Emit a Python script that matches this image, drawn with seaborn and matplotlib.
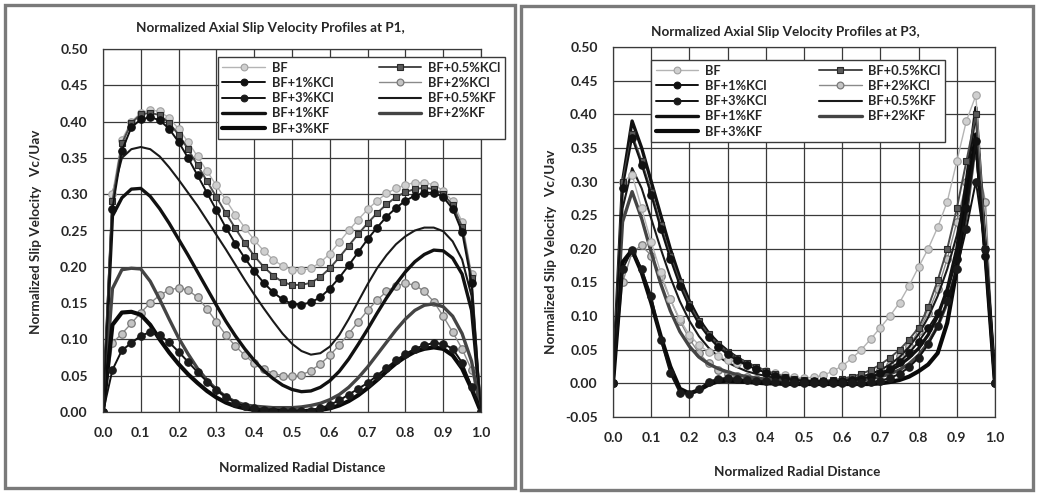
import matplotlib
matplotlib.use("Agg")
import matplotlib.pyplot as plt
import seaborn as sns
import pandas as pd
from matplotlib.patches import Rectangle

# ---------------- data ----------------
x = [0.0, 0.025, 0.05, 0.075, 0.1, 0.125, 0.15, 0.175, 0.2, 0.225,
     0.25, 0.275, 0.3, 0.325, 0.35, 0.375, 0.4, 0.425, 0.45, 0.475,
     0.5, 0.525, 0.55, 0.575, 0.6, 0.625, 0.65, 0.675, 0.7, 0.725,
     0.75, 0.775, 0.8, 0.825, 0.85, 0.875, 0.9, 0.925, 0.95, 0.975, 1.0]

series_names = ["BF", "BF+0.5%KCl", "BF+1%KCl", "BF+2%KCl", "BF+3%KCl",
                "BF+0.5%KF", "BF+1%KF", "BF+2%KF", "BF+3%KF"]

# ---- P1 ----
p1_bf = [0, 0.30, 0.375, 0.40, 0.412, 0.416, 0.414, 0.405, 0.39, 0.372,
         0.352, 0.332, 0.312, 0.292, 0.272, 0.254, 0.237, 0.222, 0.21, 0.201,
         0.196, 0.195, 0.198, 0.206, 0.218, 0.234, 0.25, 0.265, 0.279, 0.291,
         0.301, 0.308, 0.313, 0.316, 0.316, 0.313, 0.305, 0.29, 0.262, 0.19, 0]
p1_kcl05 = [0, 0.29, 0.37, 0.398, 0.41, 0.412, 0.409, 0.398, 0.382, 0.362,
            0.34, 0.318, 0.296, 0.274, 0.253, 0.233, 0.215, 0.2, 0.188, 0.179,
            0.175, 0.175, 0.178, 0.186, 0.198, 0.213, 0.229, 0.245, 0.26, 0.274,
            0.286, 0.296, 0.303, 0.307, 0.309, 0.307, 0.3, 0.285, 0.255, 0.185, 0]
p1_kcl1 = [0, 0.28, 0.36, 0.392, 0.403, 0.406, 0.402, 0.39, 0.372, 0.35,
           0.326, 0.302, 0.278, 0.254, 0.232, 0.212, 0.194, 0.178, 0.165, 0.155,
           0.149, 0.148, 0.151, 0.158, 0.17, 0.185, 0.202, 0.22, 0.238, 0.254,
           0.269, 0.281, 0.291, 0.298, 0.302, 0.302, 0.296, 0.28, 0.248, 0.178, 0]
p1_kcl2 = [0, 0.095, 0.108, 0.122, 0.137, 0.15, 0.161, 0.168, 0.171, 0.168,
           0.158, 0.142, 0.124, 0.106, 0.091, 0.078, 0.067, 0.059, 0.053, 0.05,
           0.049, 0.051, 0.057, 0.066, 0.078, 0.092, 0.108, 0.124, 0.14, 0.154,
           0.166, 0.174, 0.177, 0.175, 0.166, 0.152, 0.132, 0.11, 0.087, 0.058, 0]
p1_kcl3 = [0, 0.058, 0.085, 0.095, 0.105, 0.11, 0.106, 0.096, 0.083, 0.069,
           0.055, 0.042, 0.03, 0.021, 0.013, 0.008, 0.005, 0.003, 0.002, 0.001,
           0.001, 0.001, 0.002, 0.005, 0.01, 0.016, 0.024, 0.032, 0.04, 0.05,
           0.061, 0.071, 0.08, 0.087, 0.092, 0.095, 0.094, 0.087, 0.068, 0.035, 0]
p1_kf05 = [0, 0.30, 0.35, 0.362, 0.365, 0.362, 0.352, 0.337, 0.32, 0.302,
           0.284, 0.264, 0.244, 0.224, 0.203, 0.182, 0.162, 0.143, 0.125, 0.108,
           0.094, 0.084, 0.079, 0.081, 0.09, 0.106, 0.128, 0.152, 0.176, 0.198,
           0.216, 0.231, 0.242, 0.25, 0.254, 0.254, 0.249, 0.235, 0.21, 0.16, 0]
p1_kf1 = [0, 0.27, 0.295, 0.307, 0.308, 0.297, 0.28, 0.26, 0.238, 0.216,
          0.193, 0.17, 0.147, 0.125, 0.105, 0.087, 0.071, 0.057, 0.046, 0.037,
          0.031, 0.028, 0.029, 0.034, 0.043, 0.056, 0.073, 0.093, 0.114, 0.136,
          0.157, 0.176, 0.193, 0.207, 0.217, 0.223, 0.222, 0.212, 0.19, 0.14, 0]
p1_kf2 = [0, 0.17, 0.196, 0.198, 0.197, 0.18, 0.155, 0.128, 0.102, 0.08,
          0.06, 0.044, 0.031, 0.021, 0.014, 0.01, 0.008, 0.007, 0.006, 0.006,
          0.006, 0.007, 0.009, 0.012, 0.017, 0.024, 0.034, 0.047, 0.062, 0.079,
          0.096, 0.113, 0.128, 0.14, 0.147, 0.149, 0.145, 0.132, 0.108, 0.07, 0]
p1_kf3 = [0, 0.12, 0.137, 0.138, 0.134, 0.12, 0.1, 0.082, 0.066, 0.052,
          0.04, 0.029, 0.02, 0.013, 0.008, 0.005, 0.003, 0.002, 0.002, 0.001,
          0.001, 0.001, 0.002, 0.003, 0.005, 0.009, 0.015, 0.023, 0.033, 0.044,
          0.056, 0.067, 0.076, 0.083, 0.087, 0.089, 0.087, 0.078, 0.06, 0.032, 0]

# ---- P3 ----
p3_bf = [0, 0.30, 0.31, 0.26, 0.21, 0.165, 0.125, 0.095, 0.072, 0.057,
         0.047, 0.04, 0.035, 0.031, 0.027, 0.023, 0.019, 0.015, 0.012, 0.009,
         0.008, 0.009, 0.012, 0.018, 0.026, 0.037, 0.05, 0.066, 0.083, 0.1,
         0.12, 0.145, 0.173, 0.2, 0.232, 0.27, 0.33, 0.39, 0.428, 0.2, 0]
p3_kcl05 = [0, 0.30, 0.37, 0.33, 0.285, 0.235, 0.19, 0.15, 0.118, 0.092,
            0.073, 0.058, 0.047, 0.038, 0.031, 0.025, 0.019, 0.014, 0.01, 0.007,
            0.005, 0.004, 0.004, 0.005, 0.007, 0.01, 0.014, 0.02, 0.028, 0.038,
            0.05, 0.065, 0.083, 0.113, 0.153, 0.2, 0.26, 0.33, 0.40, 0.2, 0]
p3_kcl1 = [0, 0.29, 0.365, 0.325, 0.28, 0.23, 0.185, 0.145, 0.113, 0.088,
           0.069, 0.054, 0.043, 0.034, 0.027, 0.021, 0.016, 0.011, 0.008, 0.005,
           0.004, 0.003, 0.003, 0.003, 0.004, 0.005, 0.007, 0.01, 0.015, 0.022,
           0.032, 0.045, 0.062, 0.082, 0.104, 0.135, 0.185, 0.26, 0.36, 0.19, 0]
p3_kcl2 = [0, 0.15, 0.195, 0.205, 0.19, 0.16, 0.125, 0.093, 0.066, 0.045,
           0.03, 0.02, 0.014, 0.011, 0.009, 0.007, 0.006, 0.005, 0.004, 0.003,
           0.003, 0.003, 0.003, 0.004, 0.005, 0.007, 0.01, 0.014, 0.02, 0.028,
           0.04, 0.056, 0.078, 0.105, 0.14, 0.185, 0.24, 0.3, 0.34, 0.27, 0]
p3_kcl3 = [0, 0.17, 0.198, 0.17, 0.13, 0.065, 0.015, -0.014, -0.016, -0.008,
           0.002, 0.007, 0.008, 0.007, 0.005, 0.004, 0.003, 0.002, 0.001, 0.0,
           0.0, 0.0, 0.0, 0.0, 0.0, 0.0, 0.001, 0.002, 0.004, 0.008,
           0.014, 0.024, 0.038, 0.058, 0.085, 0.122, 0.17, 0.23, 0.30, 0.2, 0]
p3_kf05 = [0, 0.26, 0.32, 0.29, 0.245, 0.2, 0.158, 0.122, 0.093, 0.07,
           0.053, 0.04, 0.031, 0.024, 0.018, 0.014, 0.011, 0.008, 0.006, 0.004,
           0.003, 0.003, 0.003, 0.004, 0.005, 0.007, 0.01, 0.014, 0.02, 0.028,
           0.039, 0.054, 0.073, 0.098, 0.13, 0.17, 0.22, 0.285, 0.35, 0.18, 0]
p3_kf1 = [0, 0.30, 0.39, 0.35, 0.30, 0.25, 0.20, 0.157, 0.122, 0.095,
          0.075, 0.06, 0.048, 0.038, 0.03, 0.023, 0.017, 0.012, 0.008, 0.005,
          0.003, 0.002, 0.002, 0.002, 0.003, 0.004, 0.006, 0.009, 0.013, 0.019,
          0.027, 0.038, 0.052, 0.072, 0.1, 0.14, 0.2, 0.3, 0.41, 0.2, 0]
p3_kf2 = [0, 0.24, 0.285, 0.245, 0.195, 0.148, 0.108, 0.077, 0.055, 0.039,
          0.029, 0.022, 0.017, 0.013, 0.01, 0.008, 0.006, 0.005, 0.004, 0.003,
          0.002, 0.002, 0.002, 0.002, 0.003, 0.004, 0.005, 0.007, 0.01, 0.014,
          0.02, 0.029, 0.042, 0.06, 0.085, 0.12, 0.17, 0.25, 0.36, 0.19, 0]
p3_kf3 = [0, 0.18, 0.198, 0.165, 0.12, 0.07, 0.025, -0.008, -0.015, -0.01,
          -0.002, 0.003, 0.004, 0.003, 0.002, 0.001, 0.0, 0.0, -0.001, -0.001,
          -0.001, -0.001, -0.001, -0.001, -0.001, -0.001, -0.001, -0.001, 0.0, 0.002,
          0.005, 0.01, 0.018, 0.028, 0.045, 0.09, 0.17, 0.27, 0.37, 0.19, 0]

x_ticks = [0.0, 0.1, 0.2, 0.3, 0.4, 0.5, 0.6, 0.7, 0.8, 0.9, 1.0]
p1_yticks = [0.00, 0.05, 0.10, 0.15, 0.20, 0.25, 0.30, 0.35, 0.40, 0.45, 0.50]
p3_yticks = [-0.05, 0.00, 0.05, 0.10, 0.15, 0.20, 0.25, 0.30, 0.35, 0.40, 0.45, 0.50]

titles = ["Normalized Axial Slip Velocity Profiles at P1,",
          "Normalized Axial Slip Velocity Profiles at P3,"]
xlabel = "Normalized Radial Distance"
ylabel = "Normalized Slip Velocity   Vc/Uav"

# ---------------- styles ----------------
styles = {
    "BF":          dict(color="#b4b4b4", lw=1.0, marker="o", ms=5.4, mfc="#cfcfcf", mec="#a0a0a0", mew=0.8),
    "BF+0.5%KCl":  dict(color="#4a4a4a", lw=1.4, marker="s", ms=4.8, mfc="#5a5a5a", mec="#2a2a2a", mew=0.8),
    "BF+1%KCl":    dict(color="#111111", lw=1.4, marker="o", ms=5.4, mfc="#111111", mec="#111111", mew=0.8),
    "BF+2%KCl":    dict(color="#8a8a8a", lw=1.0, marker="o", ms=5.4, mfc="#c4c4c4", mec="#7a7a7a", mew=0.9),
    "BF+3%KCl":    dict(color="#111111", lw=1.4, marker="o", ms=5.4, mfc="#1a1a1a", mec="#1a1a1a", mew=0.8),
    "BF+0.5%KF":   dict(color="#1a1a1a", lw=1.5, marker=None),
    "BF+1%KF":     dict(color="#111111", lw=2.4, marker=None),
    "BF+2%KF":     dict(color="#444444", lw=2.4, marker=None),
    "BF+3%KF":     dict(color="#0a0a0a", lw=3.0, marker=None),
}

sns.set_theme(style="white")
plt.rcParams["font.family"] = ["Lato", "DejaVu Sans"]
plt.rcParams["font.weight"] = "bold"

fig = plt.figure(figsize=(10.4, 4.94), dpi=100)
fig.patch.set_facecolor("white")

# outer chart boxes
for (bx, by, bw, bh) in [(5 / 1040, 6 / 494, 510 / 1040, 483 / 494),
                         (521 / 1040, 4 / 494, 512 / 1040, 484 / 494)]:
    fig.patches.append(Rectangle((bx, by), bw, bh, transform=fig.transFigure,
                                 fill=False, edgecolor="#7a7a7a", lw=2.4, zorder=0))

ax1 = fig.add_axes([103 / 1040, 1 - 412 / 494, 378 / 1040, 363 / 494])
ax2 = fig.add_axes([613 / 1040, 1 - 417 / 494, 382 / 1040, 370 / 494])

panels = [
    (ax1, [p1_bf, p1_kcl05, p1_kcl1, p1_kcl2, p1_kcl3, p1_kf05, p1_kf1, p1_kf2, p1_kf3],
     p1_yticks, (0.0, 0.5), (0.304, 0.752, 0.759, 0.226)),
    (ax2, [p3_bf, p3_kcl05, p3_kcl1, p3_kcl2, p3_kcl3, p3_kf05, p3_kf1, p3_kf2, p3_kf3],
     p3_yticks, (-0.05, 0.5), (0.0995, 0.743, 0.77, 0.241)),
]

draw_order = ["BF+2%KCl", "BF+0.5%KF", "BF+1%KF", "BF+2%KF", "BF+3%KF",
              "BF", "BF+0.5%KCl", "BF+1%KCl", "BF+3%KCl"]

for ax, data, yt, ylim, lbox in panels:
    df = pd.DataFrame({"x": x})
    for name, vals in zip(series_names, data):
        df[name] = vals
    handles = {}
    for name in draw_order:
        st = dict(styles[name])
        color = st.pop("color")
        lw = st.pop("lw")
        sns.lineplot(data=df, x="x", y=name, ax=ax, color=color, linewidth=lw,
                     estimator=None, sort=False, label=name, legend=False, **st)
        handles[name] = ax.lines[-1]
    ax.set_xlim(0, 1)
    ax.set_ylim(*ylim)
    ax.set_xticks(x_ticks)
    ax.set_yticks(yt)
    ax.set_xticklabels([f"{v:.1f}" for v in x_ticks])
    ax.set_yticklabels([f"{v:.2f}" for v in yt])
    ax.grid(True, color="#3a3a3a", lw=0.9)
    ax.set_axisbelow(True)
    for s in ax.spines.values():
        s.set_color("#3a3a3a")
        s.set_linewidth(0.9)
    ax.tick_params(axis="both", direction="out", length=5, width=0.9, color="#3a3a3a",
                   labelsize=10, labelcolor="#262626", pad=6)
    for lab in ax.get_xticklabels() + ax.get_yticklabels():
        lab.set_fontweight("bold")
    ax.set_xlabel("")
    ax.set_ylabel("")
    order = ["BF", "BF+1%KCl", "BF+3%KCl", "BF+1%KF", "BF+3%KF",
             "BF+0.5%KCl", "BF+2%KCl", "BF+0.5%KF", "BF+2%KF"]
    leg = ax.legend([handles[n] for n in order], order, ncol=2, loc="lower left",
                    bbox_to_anchor=lbox, mode="expand", fontsize=9.3, frameon=True,
                    fancybox=False, edgecolor="#3a3a3a", framealpha=1, borderaxespad=0,
                    handlelength=3.3, labelspacing=0.25, borderpad=0.35,
                    handletextpad=0.5, columnspacing=1.0, markerscale=0.9)
    leg.get_frame().set_linewidth(1.0)
    for t in leg.get_texts():
        t.set_fontweight("bold")
        t.set_color("#262626")

# titles and axis labels
fig.text(270 / 1040, 1 - 28 / 494, titles[0], ha="center", va="center",
         fontsize=9.7, fontweight="bold", color="#262626")
fig.text(785 / 1040, 1 - 32 / 494, titles[1], ha="center", va="center",
         fontsize=9.7, fontweight="bold", color="#262626")
fig.text(302 / 1040, 1 - 468 / 494, xlabel, ha="center", va="center",
         fontsize=9.7, fontweight="bold", color="#262626")
fig.text(797 / 1040, 1 - 472 / 494, xlabel, ha="center", va="center",
         fontsize=9.7, fontweight="bold", color="#262626")
fig.text(36 / 1040, 1 - 232 / 494, ylabel, ha="center", va="center", rotation=90,
         fontsize=9.7, fontweight="bold", color="#262626")
fig.text(551 / 1040, 1 - 252 / 494, ylabel, ha="center", va="center", rotation=90,
         fontsize=9.7, fontweight="bold", color="#262626")

fig.savefig("out.png", dpi=100, facecolor="white")
